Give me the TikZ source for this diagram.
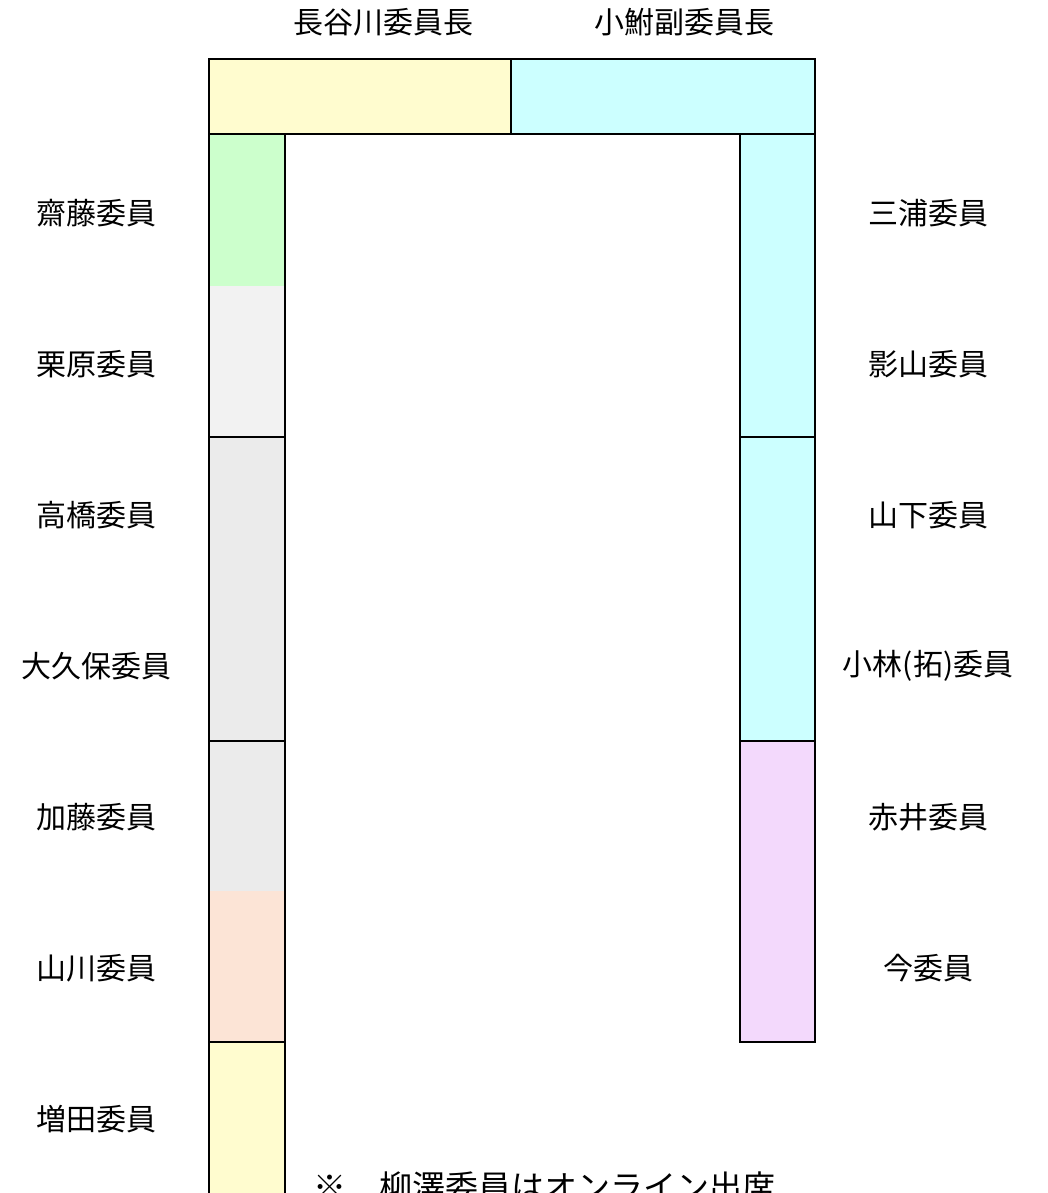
\documentclass[tikz,border=0pt]{standalone}
\usepackage{fontspec}
\setmainfont{Noto Sans CJK JP}
\definecolor{cyellow}{HTML}{FFFCCF}
\definecolor{ccyan}{HTML}{CCFFFF}
\definecolor{cgreen}{HTML}{CCFFCC}
\definecolor{cgrayA}{HTML}{F2F2F2}
\definecolor{cgrayB}{HTML}{EBEBEB}
\definecolor{cpeach}{HTML}{FCE4D6}
\definecolor{cpurple}{HTML}{F3D9FC}
\tikzset{
  seg/.style={anchor=north west, inner sep=0pt, outer sep=0pt, minimum width=#1},
  box/.style={anchor=north west, inner sep=0pt, outer sep=0pt, draw=black, line width=2.5pt},
  lbl/.style={font=\fontsize{30}{35}\selectfont, inner sep=0pt},
  note/.style={font=\fontsize{33}{38}\selectfont, inner sep=0pt, anchor=west}
}
\begin{document}
\begin{tikzpicture}[x=1pt,y=-1pt]
\useasboundingbox (0,0) rectangle (1048,1193);
\clip (0,0) rectangle (1048,1193);
% top boxes
\node[box, fill=cyellow, minimum width=302, minimum height=75] (chair) at (209,59) {};
\node[box, fill=ccyan, minimum width=304, minimum height=75] (vice) at (511,59) {};
% left column fills
\node[seg=76, fill=cgreen, minimum height=152] (l1) at (209,134) {};
\node[seg=76, fill=cgrayA, minimum height=151] (l2) at (209,286) {};
\node[seg=76, fill=cgrayB, minimum height=304] (l3) at (209,437) {};
\node[seg=76, fill=cgrayB, minimum height=150] (l5) at (209,741) {};
\node[seg=76, fill=cpeach, minimum height=151] (l6) at (209,891) {};
\node[seg=76, fill=cyellow, minimum height=170] (l7) at (209,1042) {};
% left column borders
\node[box, minimum width=76, minimum height=303] (lb1) at (209,134) {};
\node[box, minimum width=76, minimum height=304] (lb2) at (209,437) {};
\node[box, minimum width=76, minimum height=301] (lb3) at (209,741) {};
\node[box, minimum width=76, minimum height=170] (lb4) at (209,1042) {};
% right column
\node[box, fill=ccyan, minimum width=75, minimum height=303] (r1) at (740,134) {};
\node[box, fill=ccyan, minimum width=75, minimum height=304] (r2) at (740,437) {};
\node[box, fill=cpurple, minimum width=75, minimum height=301] (r3) at (740,741) {};
% top labels
\node[lbl] (tchair) at (383,22) {長谷川委員長};
\node[lbl] (tvice) at (684,22) {小鮒副委員長};
% left labels
\node[lbl] (a1) at (96,213) {齋藤委員};
\node[lbl] (a2) at (96,364) {栗原委員};
\node[lbl] (a3) at (96,515) {高橋委員};
\node[lbl] (a4) at (96,666) {大久保委員};
\node[lbl] (a5) at (96,817) {加藤委員};
\node[lbl] (a6) at (96,968) {山川委員};
\node[lbl] (a7) at (96,1119) {増田委員};
% right labels
\node[lbl] (b1) at (928,213) {三浦委員};
\node[lbl] (b2) at (928,364) {影山委員};
\node[lbl] (b3) at (928,515) {山下委員};
\node[lbl] (b4) at (928,666) {小林(拓)委員};
\node[lbl] (b5) at (928,817) {赤井委員};
\node[lbl] (b6) at (928,968) {今委員};
% note
\node[note] (nt) at (313,1187) {※　柳澤委員はオンライン出席};
\end{tikzpicture}
\end{document}
